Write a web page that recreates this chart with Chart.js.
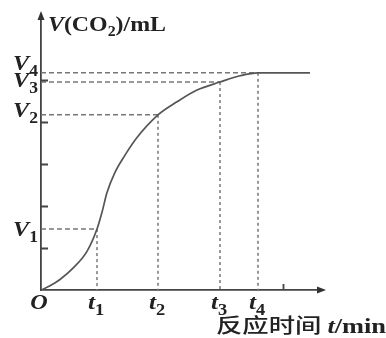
<!DOCTYPE html>
<html>
<head>
<meta charset="utf-8">
<script src="https://cdn.jsdelivr.net/npm/chart.js@4.4.0/dist/chart.umd.min.js"></script>
<style>
    html, body { margin: 0; padding: 0; background: #fff; }
    #wrap { width: 386px; height: 338px; }
</style>
</head>
<body>
<div id="wrap"><canvas id="chart"></canvas></div>
<script>
// Curve (t and V in axis units)
const curveT = [0, 0.36, 0.76, 1.28, 1.84, 2.24, 2.44, 2.64, 2.96, 3.36, 3.84, 4.68, 5.44, 6.24, 7.16, 7.96, 8.68, 10.76];
const curveV = [0, 0.10, 0.25, 0.52, 0.92, 1.45, 1.85, 2.32, 2.80, 3.21, 3.63, 4.17, 4.48, 4.76, 4.95, 5.10, 5.17, 5.17];

// Marked points t1..t4 and V1..V4
const markT = [2.24, 4.68, 7.16, 8.68];
const markV = [1.45, 4.17, 4.95, 5.17];
const markSubs = ['1', '2', '3', '4'];

// Unlabelled tick marks on the axes
const minorTicksY = [1, 2, 3, 4, 5];
const minorTicksX = [9.68];

// Axis extents
const xMax = 11.28;
const yMax = 6.57;

// Label offsets (px) so V3 / V4 do not sit on top of each other
const yLabelShift = [7, 2, 5, -3];

const SERIF = '"Liberation Serif", "DejaVu Serif", serif';
const CJK = '"Noto Sans CJK SC", sans-serif';
const INK = '#222';

// Draws a row of text runs, optionally squeezed/stretched to a width
function drawRuns(ctx, runs, x, y, width, align, stretch) {
    let total = 0;
    runs.forEach(r => {
        ctx.font = r.font;
        r.w = ctx.measureText(r.text).width;
        total += r.w;
    });
    const sx = width ? width / total : (stretch || 1);
    let start = x;
    if (align === 'right') start = x - total * sx;
    if (align === 'center') start = x - total * sx / 2;
    ctx.save();
    ctx.translate(start, y);
    ctx.scale(sx, 1);
    let cx = 0;
    runs.forEach(r => {
        ctx.font = r.font;
        ctx.fillText(r.text, cx, r.dy || 0);
        cx += r.w;
    });
    ctx.restore();
}

function mainRun(text) { return { text, font: 'italic bold 22px ' + SERIF }; }
function subRun(text) { return { text, font: 'bold 16px ' + SERIF, dy: 6 }; }

const decorPlugin = {
    id: 'decor',
    afterDraw(chart) {
        const ctx = chart.ctx;
        const xs = chart.scales.x;
        const ys = chart.scales.y;
        const area = chart.chartArea;
        const ox = xs.getPixelForValue(0);
        const oy = ys.getPixelForValue(0);

        ctx.save();
        ctx.fillStyle = '#333';
        ctx.strokeStyle = '#444';
        ctx.lineWidth = 1.8;

        // arrow heads
        ctx.beginPath();
        ctx.moveTo(ox, area.top - 3);
        ctx.lineTo(ox - 3.5, area.top + 6);
        ctx.lineTo(ox + 3.5, area.top + 6);
        ctx.closePath();
        ctx.fill();
        ctx.beginPath();
        ctx.moveTo(area.right + 3, oy);
        ctx.lineTo(area.right - 6, oy - 3.5);
        ctx.lineTo(area.right - 6, oy + 3.5);
        ctx.closePath();
        ctx.fill();

        // inward tick marks
        ctx.beginPath();
        minorTicksY.forEach(v => {
            const py = Math.round(ys.getPixelForValue(v)) + 0.5;
            ctx.moveTo(ox, py);
            ctx.lineTo(ox + 7, py);
        });
        minorTicksX.forEach(v => {
            const px = Math.round(xs.getPixelForValue(v)) + 0.5;
            ctx.moveTo(px, oy);
            ctx.lineTo(px, oy - 6);
        });
        ctx.stroke();

        ctx.fillStyle = INK;
        ctx.textBaseline = 'alphabetic';

        // y labels V1..V4
        markV.forEach((v, i) => {
            const py = ys.getPixelForValue(v) + yLabelShift[i];
            drawRuns(ctx, [mainRun('V'), subRun(markSubs[i])], ox - 3, py, null, 'right', 1.1);
        });

        // x labels O, t1..t4
        drawRuns(ctx, [mainRun('O')], ox - 2, oy + 19, null, 'center', 1.1);
        markT.forEach((t, i) => {
            const px = xs.getPixelForValue(t);
            drawRuns(ctx, [mainRun('t'), subRun(markSubs[i])], px - 1, oy + 19, null, 'center', 1.15);
        });

        // axis titles
        drawRuns(ctx, [
            { text: 'V', font: 'italic bold 21px ' + SERIF },
            { text: '(CO', font: 'bold 21px ' + SERIF },
            { text: '2', font: 'bold 14px ' + SERIF, dy: 5 },
            { text: ')/mL', font: 'bold 21px ' + SERIF }
        ], ox + 7, area.top + 17, 118, 'left');

        drawRuns(ctx, [
            { text: '反应时间 ', font: '500 20px ' + CJK },
            { text: 't', font: 'italic bold 20px ' + SERIF },
            { text: '/min', font: 'bold 20px ' + SERIF }
        ], 216, oy + 43, 170, 'left');

        ctx.restore();
    }
};

const curveData = curveT.map((t, i) => ({ x: t, y: curveV[i] }));

const guideSets = [];
markT.forEach((t, i) => {
    guideSets.push({
        data: [{ x: 0, y: markV[i] }, { x: t, y: markV[i] }],
        borderColor: '#777',
        borderWidth: 1.5,
        borderDash: [5, 3],
        pointRadius: 0
    });
    guideSets.push({
        data: [{ x: t, y: markV[i] }, { x: t, y: 0 }],
        borderColor: '#777',
        borderWidth: 1.5,
        borderDash: [3, 3],
        pointRadius: 0
    });
});

new Chart(document.getElementById('chart'), {
    type: 'line',
    data: {
        datasets: [
            {
                data: curveData,
                borderColor: '#555',
                borderWidth: 1.7,
                pointRadius: 0,
                cubicInterpolationMode: 'monotone'
            },
            ...guideSets
        ]
    },
    options: {
        responsive: true,
        maintainAspectRatio: false,
        animation: false,
        layout: { padding: { left: 0, top: 14, right: 63, bottom: 0 } },
        plugins: {
            legend: { display: false },
            tooltip: { enabled: false }
        },
        scales: {
            x: {
                type: 'linear',
                min: 0,
                max: xMax,
                grid: { display: false },
                border: { color: '#444', width: 1.8 },
                ticks: { display: false },
                afterFit(scale) { scale.height = 48; }
            },
            y: {
                type: 'linear',
                min: 0,
                max: yMax,
                grid: { display: false },
                border: { color: '#444', width: 1.8 },
                ticks: { display: false },
                afterFit(scale) { scale.width = 41; }
            }
        }
    },
    plugins: [decorPlugin]
});
</script>
</body>
</html>
